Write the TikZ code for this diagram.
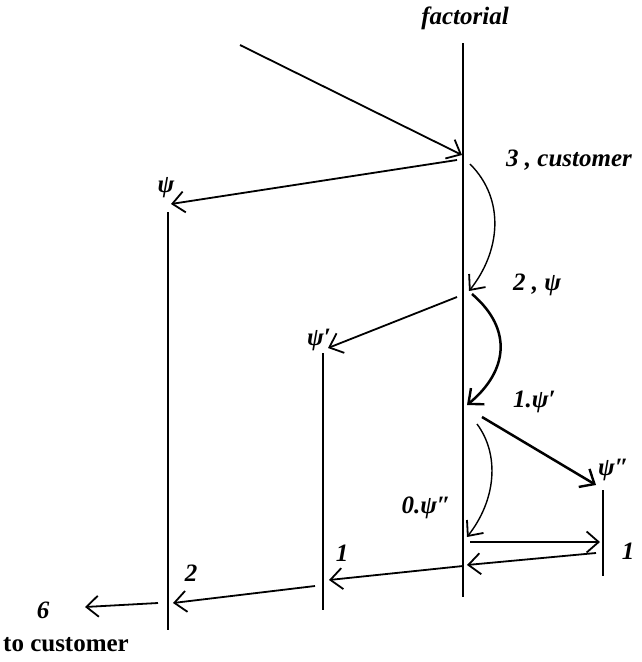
\documentclass[tikz,border=0pt]{standalone}
\usepackage{fontspec}
\setmainfont{Liberation Serif}
\usetikzlibrary{arrows.meta}
\begin{document}
\begin{tikzpicture}[x=1pt,y=-1pt,
  lifeline/.style={line width=2pt},
  msg/.style={line width=1.8pt,-{Straight Barb[length=12pt,width=21pt,line width=1.8pt]}},
  msgthick/.style={line width=2.5pt,-{Straight Barb[length=12pt,width=21pt,line width=2.4pt]}},
  lbl/.style={font=\fontsize{25}{28}\selectfont\bfseries\itshape, inner sep=0pt},
  rlbl/.style={font=\fontsize{25}{28}\selectfont\bfseries, inner sep=0pt}]
\useasboundingbox (0,0) rectangle (642,662);
% lifelines
\coordinate (ftop) at (463,43);
\coordinate (fbot) at (463,597);
\coordinate (ptop) at (168,212);
\coordinate (pbot) at (168,630);
\coordinate (qtop) at (323,353);
\coordinate (qbot) at (323,610);
\coordinate (rtop) at (603,490);
\coordinate (rbot) at (603,576);
\draw[lifeline] (ftop) -- (fbot);
\draw[lifeline] (ptop) -- (pbot);
\draw[lifeline] (qtop) -- (qbot);
\draw[lifeline] (rtop) -- (rbot);
% labels
\node[lbl] (fact) at (465,18) {factorial};
\node[lbl,anchor=west] (l3) at (506,160) {3 , customer};
\node[lbl,anchor=west] (l2) at (513,285) {2 , ψ};
\node[lbl,anchor=west] (l1) at (513,402) {1.ψ′};
\node[lbl,anchor=east] (l0) at (451,508) {0.ψ″};
\node[lbl] (psi) at (166,188) {ψ};
\node[lbl] (psip) at (319,340) {ψ′};
\node[lbl,anchor=west] (psipp) at (598,470) {ψ″};
\node[lbl] (r1) at (628,551) {1};
\node[lbl] (q1) at (342,553) {1};
\node[lbl] (p2) at (191,573) {2};
\node[lbl] (six) at (43,610) {6};
\node[rlbl] (tocust) at (66,645) {to customer};
% coordinates for messages
\coordinate (in0) at (240,45);
\coordinate (f1) at (462,155);
\coordinate (f1s) at (457,160);
\coordinate (p1) at (171,204);
\coordinate (c1s) at (470,164);
\coordinate (c1e) at (469,291);
\coordinate (f2s) at (457,297);
\coordinate (q1e) at (328,348);
\coordinate (c2s) at (472,294);
\coordinate (c2e) at (467,405);
\coordinate (f3s) at (482,417);
\coordinate (r1e) at (596,485);
\coordinate (c3s) at (477,424);
\coordinate (c3e) at (467,537);
\coordinate (f4s) at (470,542);
\coordinate (r4e) at (600,542);
\coordinate (r5s) at (596,553);
\coordinate (f5e) at (467,565);
\coordinate (f6s) at (463,566);
\coordinate (q6e) at (329,580);
\coordinate (q7s) at (315,586);
\coordinate (p7e) at (173,603);
\coordinate (p8s) at (158,603);
\coordinate (out) at (85,607);
% messages
\draw[msg] (in0) -- (f1);
\draw[msg] (f1s) -- (p1);
\draw[msg,line width=1.4pt] (c1s) .. controls (506,200) and (500,252) .. (c1e);
\draw[msg] (f2s) -- (q1e);
\draw[msgthick] (c2s) .. controls (514,330) and (507,372) .. (c2e);
\draw[msgthick] (f3s) -- (r1e);
\draw[msg,line width=1.4pt] (c3s) .. controls (500,455) and (496,500) .. (c3e);
\draw[msg] (f4s) -- (r4e);
\draw[msg] (r5s) -- (f5e);
\draw[msg] (f6s) -- (q6e);
\draw[msg] (q7s) -- (p7e);
\draw[msg] (p8s) -- (out);
\end{tikzpicture}
\end{document}
